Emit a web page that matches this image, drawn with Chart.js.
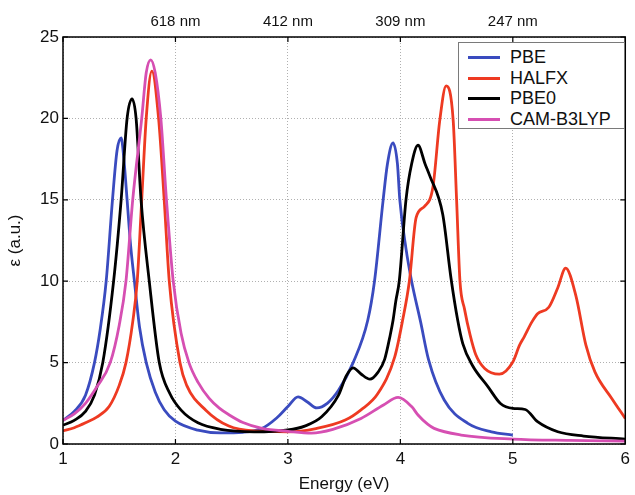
<!DOCTYPE html>
<html lang="en">
<head>
<meta charset="UTF-8">
<title>Absorption spectra</title>
<script src="https://cdn.jsdelivr.net/npm/chart.js"></script>
<style>
  body { margin: 0; background: #fff; }
  #wrap { position: relative; width: 635px; height: 495px; }
  #legend {
    position: absolute; left: 458px; top: 42px; width: 167px; height: 87px;
    border: 1px solid #7a7a7a; background: #fff; box-sizing: border-box;
    padding-top: 4px;
    font: 18px "Liberation Sans", Arial, sans-serif; color: #111;
  }
  .row { display: flex; align-items: center; height: 20.7px; }
  .swatch { width: 32px; height: 3px; margin-left: 9px; margin-right: 10px; }
</style>
</head>
<body>
<div id="wrap">
  <canvas id="spectra" width="635" height="495"></canvas>
  <div id="legend"></div>
</div>
<script>
// energies (eV) and epsilon (a.u.) for each functional
const pbeE   = [1.0, 1.1, 1.2, 1.28, 1.33, 1.384, 1.44, 1.48, 1.517, 1.54, 1.57, 1.60, 1.635, 1.68, 1.74, 1.82, 1.90, 2.0, 2.2, 2.4,
                2.6, 2.77, 2.9, 3.0, 3.09, 3.17, 3.257, 3.35, 3.45, 3.58, 3.71, 3.77, 3.847, 3.885, 3.935, 3.974, 3.995, 4.05, 4.10, 4.18,
                4.25, 4.39, 4.6, 4.81, 5.0];
const pbeEps = [1.45, 2.0, 3.0, 5.0, 7.0, 10.0, 15.0, 18.0, 18.8, 17.6, 15.0, 12.3, 10.0, 7.2, 5.0, 3.2, 2.1, 1.4, 0.85, 0.68,
                0.72, 0.96, 1.6, 2.3, 2.9, 2.6, 2.22, 2.5, 3.3, 5.0, 7.6, 10.0, 15.0, 17.2, 18.5, 17.2, 15.0, 12.0, 10.0, 7.5,
                5.2, 2.7, 1.27, 0.75, 0.55];

const halfxE   = [1.0, 1.1, 1.2, 1.3, 1.41, 1.5, 1.56, 1.62, 1.66, 1.70, 1.74, 1.79, 1.85, 1.90, 1.945, 2.04, 2.1, 2.27, 2.475, 2.7,
                  3.0, 3.25, 3.51, 3.65, 3.80, 3.95, 4.02, 4.08, 4.14, 4.215, 4.29, 4.35, 4.407, 4.47, 4.50, 4.53, 4.57, 4.62, 4.67, 4.75,
                  4.88, 5.0, 5.06, 5.10, 5.17, 5.22, 5.32, 5.40, 5.47, 5.56, 5.65, 5.73, 5.88, 6.0];
const halfxEps = [0.8, 1.0, 1.3, 1.65, 2.3, 3.6, 5.0, 7.5, 10.0, 15.0, 20.0, 22.9, 20.0, 15.0, 10.0, 5.0, 3.6, 2.08, 1.1, 0.8,
                  0.75, 0.95, 1.47, 2.1, 3.1, 5.35, 7.6, 10.0, 13.9, 14.6, 15.8, 19.85, 22.0, 19.85, 15.0, 10.0, 8.3, 6.7, 5.5, 4.64,
                  4.29, 5.04, 6.07, 6.57, 7.5, 8.0, 8.4, 9.6, 10.8, 9.13, 6.07, 4.43, 2.8, 1.57];

const pbe0E   = [1.0, 1.1, 1.2, 1.28, 1.354, 1.45, 1.517, 1.57, 1.614, 1.65, 1.694, 1.767, 1.856, 1.95, 2.05, 2.2, 2.4, 2.7, 3.0, 3.15,
                 3.3, 3.45, 3.52, 3.58, 3.65, 3.73, 3.8, 3.86, 3.91, 3.935, 3.96, 3.99, 4.05, 4.10, 4.157, 4.22, 4.26, 4.377, 4.45, 4.51,
                 4.555, 4.64, 4.78, 4.89, 5.0, 5.11, 5.22, 5.40, 5.63, 6.0];
const pbe0Eps = [1.15, 1.45, 2.0, 3.0, 5.0, 10.0, 15.0, 20.0, 21.2, 20.0, 15.0, 10.0, 5.0, 3.1, 2.08, 1.3, 0.9, 0.75, 0.86, 1.1,
                 1.67, 3.0, 4.2, 4.68, 4.3, 3.98, 4.4, 5.2, 6.7, 7.6, 8.8, 10.0, 15.0, 17.2, 18.35, 17.2, 16.5, 14.1, 10.2, 7.6,
                 6.17, 4.84, 3.51, 2.49, 2.19, 2.12, 1.37, 0.75, 0.49, 0.3];

const camE   = [1.0, 1.1, 1.2, 1.3, 1.42, 1.5, 1.56, 1.62, 1.70, 1.74, 1.78, 1.82, 1.87, 1.92, 1.98, 2.05, 2.12, 2.2, 2.3, 2.39,
                2.475, 2.6, 2.77, 3.0, 3.21, 3.4, 3.65, 3.85, 3.98, 4.1, 4.157, 4.245, 4.30, 4.54, 5.0, 5.5, 6.0];
const camEps = [1.45, 1.85, 2.5, 3.5, 5.0, 7.3, 10.0, 15.0, 20.0, 22.8, 23.6, 22.8, 20.0, 15.0, 10.0, 6.8, 5.0, 3.8, 2.8, 2.2,
                1.8, 1.32, 0.96, 0.78, 0.67, 0.9, 1.57, 2.4, 2.86, 2.3, 1.78, 1.2, 0.96, 0.55, 0.3, 0.22, 0.18];

const seriesNames  = ['PBE', 'HALFX', 'PBE0', 'CAM-B3LYP'];
const seriesColors = ['#3a4bbf', '#ee3a22', '#000000', '#d64fb2'];

// wavelength labels on the top axis
const nmTicks  = [2, 3, 4, 5];
const nmLabels = ['618 nm', '412 nm', '309 nm', '247 nm'];

const FONT = '"Liberation Sans", Arial, sans-serif';

function pts(xs, ys) {
  return xs.map((x, i) => ({ x: x, y: ys[i] }));
}

const seriesData = [pts(pbeE, pbeEps), pts(halfxE, halfxEps), pts(pbe0E, pbe0Eps), pts(camE, camEps)];

const datasets = seriesNames.map((name, i) => ({
  label: name,
  data: seriesData[i],
  borderColor: seriesColors[i],
  borderWidth: 2.8,
  pointRadius: 0,
  fill: false,
  cubicInterpolationMode: 'monotone',
  order: seriesNames.length - i
}));

// box around the plot area with inward tick marks on all four sides
const frame = {
  id: 'frame',
  afterDatasetsDraw(chart) {
    const { ctx, chartArea: a, scales } = chart;
    ctx.save();
    ctx.strokeStyle = '#000';
    ctx.lineWidth = 1.5;
    ctx.strokeRect(a.left, a.top, a.right - a.left, a.bottom - a.top);
    ctx.lineWidth = 1.2;
    ctx.beginPath();
    scales.x.ticks.forEach(t => {
      const px = scales.x.getPixelForValue(t.value);
      ctx.moveTo(px, a.bottom); ctx.lineTo(px, a.bottom - 5);
      ctx.moveTo(px, a.top); ctx.lineTo(px, a.top + 5);
    });
    scales.y.ticks.forEach(t => {
      const py = scales.y.getPixelForValue(t.value);
      ctx.moveTo(a.left, py); ctx.lineTo(a.left + 5, py);
      ctx.moveTo(a.right, py); ctx.lineTo(a.right - 5, py);
    });
    ctx.stroke();
    ctx.restore();
  }
};

new Chart(document.getElementById('spectra'), {
  type: 'line',
  data: { datasets: datasets },
  plugins: [frame],
  options: {
    responsive: false,
    animation: false,
    layout: { padding: { left: 0, right: 7, top: 0, bottom: 0 } },
    plugins: { legend: { display: false }, tooltip: { enabled: false } },
    scales: {
      x: {
        type: 'linear', position: 'bottom', min: 1, max: 6,
        afterFit: s => { s.height = 51; },
        ticks: { stepSize: 1, padding: 5, color: '#111', font: { family: FONT, size: 17 } },
        grid: { color: '#b0b0b0', lineWidth: 1, drawTicks: false },
        border: { display: false, dash: [1, 2] },
        title: { display: true, text: 'Energy (eV)', color: '#111', padding: { top: 0, bottom: 0 },
                 font: { family: FONT, size: 17 } }
      },
      x2: {
        type: 'linear', position: 'top', min: 1, max: 6,
        afterFit: s => { s.height = 37; },
        afterBuildTicks: s => { s.ticks = nmTicks.map(v => ({ value: v })); },
        ticks: {
          padding: 6, color: '#111', font: { family: FONT, size: 15 },
          callback: v => nmLabels[nmTicks.indexOf(v)]
        },
        grid: { display: false, drawTicks: false },
        border: { display: false }
      },
      y: {
        type: 'linear', min: 0, max: 25,
        afterFit: s => { s.width = 63; },
        ticks: { stepSize: 5, padding: 4, color: '#111', font: { family: FONT, size: 17 } },
        grid: { color: '#b0b0b0', lineWidth: 1, drawTicks: false },
        border: { display: false, dash: [1, 2] },
        title: { display: true, text: 'ε (a.u.)', color: '#111', padding: { top: 5, bottom: 0 },
                 font: { family: FONT, size: 17 } }
      }
    }
  }
});

// legend box inside the plot
const legend = document.getElementById('legend');
seriesNames.forEach((name, i) => {
  const row = document.createElement('div');
  row.className = 'row';
  const sw = document.createElement('span');
  sw.className = 'swatch';
  sw.style.background = seriesColors[i];
  const txt = document.createElement('span');
  txt.textContent = name;
  row.appendChild(sw);
  row.appendChild(txt);
  legend.appendChild(row);
});
</script>
</body>
</html>
